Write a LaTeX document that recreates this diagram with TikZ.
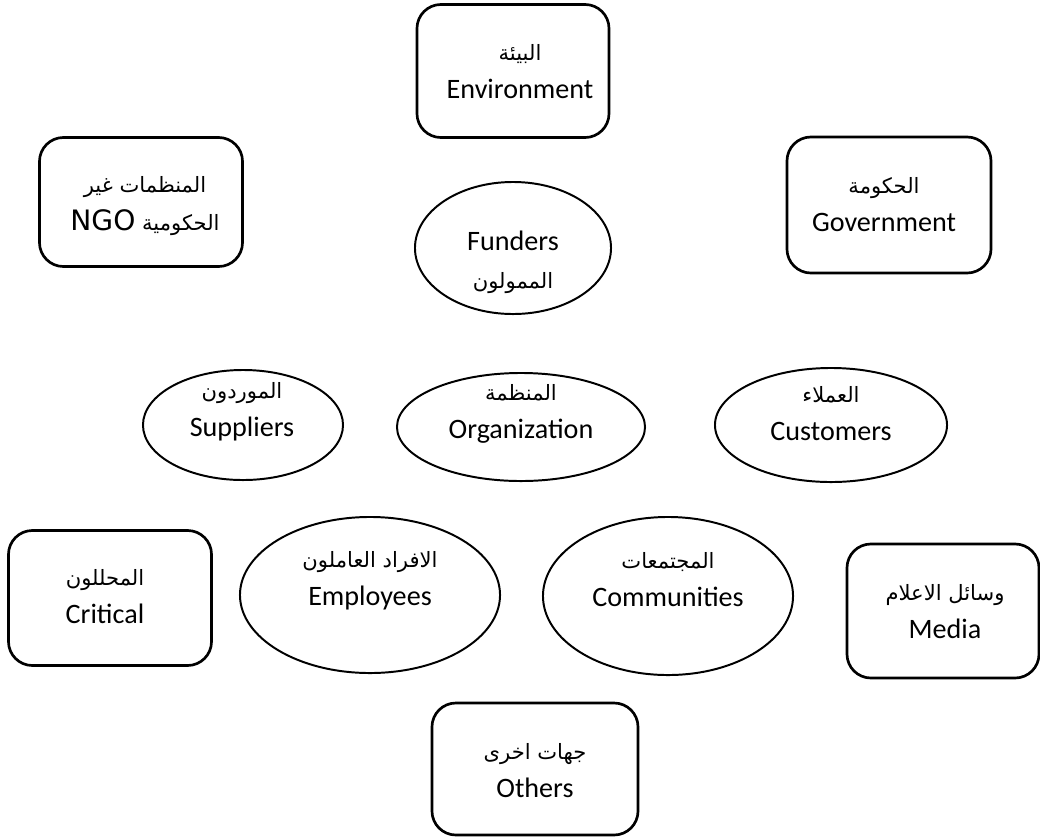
\documentclass[tikz,border=0pt]{standalone}
\usepackage{fontspec}
\setmainfont{Carlito}
\newfontfamily\arabicfont[Script=Arabic]{DejaVu Sans}
\TeXXeTstate=1
\usetikzlibrary{shapes.geometric}

\newcommand{\artxt}[1]{{\arabicfont\fontsize{15}{27}\selectfont\beginR #1\endR}}

\begin{document}
\begin{tikzpicture}[x=0.025cm, y=-0.025cm,
    box/.style={draw, rounded corners=0.6cm, line width=1.9pt, inner sep=0pt},
    oval/.style={draw, ellipse, line width=1.4pt, inner sep=0pt},
    txt/.style={align=center, font=\fontsize{20}{27}\selectfont}]
  \useasboundingbox (0,0) rectangle (1040,837);

  % stakeholder boxes
  \node[box, minimum width=4.8cm, minimum height=3.325cm] (env) at (513,71) {};
  \node[box, minimum width=5.075cm, minimum height=3.225cm] (ngo) at (141,202) {};
  \node[box, minimum width=5.1cm, minimum height=3.4cm] (gov) at (889,205) {};
  \node[box, minimum width=5.075cm, minimum height=3.375cm] (critical) at (110,598) {};
  \node[box, minimum width=4.8cm, minimum height=3.35cm] (media) at (943,611) {};
  \node[box, minimum width=5.15cm, minimum height=3.3cm] (others) at (535,769) {};

  % inner ellipses
  \node[oval, minimum width=4.9cm, minimum height=3.3cm] (funders) at (513,248) {};
  \node[oval, minimum width=5cm, minimum height=2.75cm] (suppliers) at (243,425) {};
  \node[oval, minimum width=6.2cm, minimum height=2.7cm] (org) at (521,427) {};
  \node[oval, minimum width=5.8cm, minimum height=2.85cm] (customers) at (831,425) {};
  \node[oval, minimum width=6.5cm, minimum height=3.9cm] (employees) at (370,595) {};
  \node[oval, minimum width=6.25cm, minimum height=3.95cm] (communities) at (668,596) {};

  % labels
  \node[txt] (env-text) at (520,72) {\artxt{البيئة}\\Environment};
  \node[txt] (ngo-text) at (145,206) {\artxt{المنظمات غير}\\\artxt{الحكومية {\fontsize{20}{27}\selectfont\beginL NGO\endL}}};
  \node[txt] (gov-text) at (884,205) {\artxt{الحكومة}\\Government};
  \node[txt] (funders-text) at (513,262) {Funders\\\artxt{الممولون}};
  \node[txt] (suppliers-text) at (242,412) {\artxt{الموردون}\\Suppliers};
  \node[txt] (org-text) at (521,414) {\artxt{المنظمة}\\Organization};
  \node[txt] (customers-text) at (831,414) {\artxt{العملاء}\\Customers};
  \node[txt] (critical-text) at (105,597) {\artxt{المحللون}\\Critical};
  \node[txt] (employees-text) at (370,581) {\artxt{الافراد العاملون}\\Employees};
  \node[txt] (communities-text) at (668,580) {\artxt{المجتمعات}\\Communities};
  \node[txt] (media-text) at (945,612) {\artxt{وسائل الاعلام}\\Media};
  \node[txt] (others-text) at (535,771) {\artxt{جهات اخرى}\\Others};
\end{tikzpicture}
\end{document}
